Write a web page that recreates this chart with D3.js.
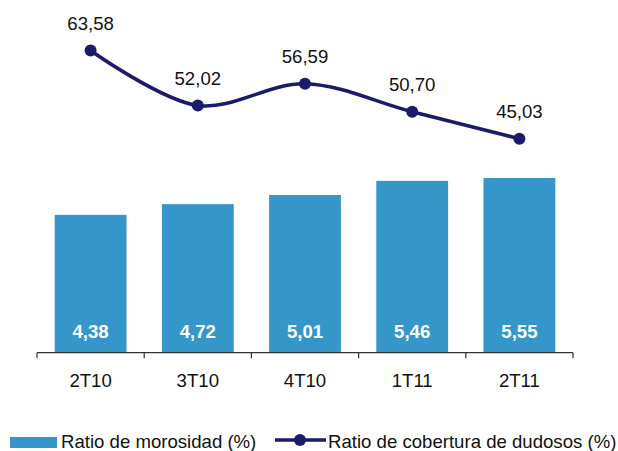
<!DOCTYPE html>
<html>
<head>
<meta charset="utf-8">
<script src="https://cdn.jsdelivr.net/npm/d3@7"></script>
<style>
  body { margin: 0; background: #fff; }
  svg { display: block; font-family: "Liberation Sans", Arial, sans-serif; }
</style>
</head>
<body>
<div class="chart"></div>
<script>
const categories = ['2T10', '3T10', '4T10', '1T11', '2T11'];
const morosidad = [4.38, 4.72, 5.01, 5.46, 5.55];
const cobertura = [63.58, 52.02, 56.59, 50.70, 45.03];
const seriesNames = ['Ratio de morosidad (%)', 'Ratio de cobertura de dudosos (%)'];

const barColor = '#3597c9';
const lineColor = '#1c1a6a';
const fmt = v => v.toFixed(2).replace('.', ',');

function draw_chart() {
    const width = 618, height = 451;
    const left = 37, right = 573, bottom = 352.7, top = 20;
    const fs = 18.6;

    const svg = d3.select('.chart')
        .append('svg')
        .attr('width', width)
        .attr('height', height);

    const x = d3.scaleBand()
        .domain(categories)
        .range([left, right])
        .paddingInner(0.33)
        .paddingOuter(0.165);

    const xAxisScale = d3.scaleBand()
        .domain(categories)
        .range([left, right]);

    const yBar = d3.scaleLinear().domain([0, 10.57]).range([bottom, top]);
    const yLine = d3.scaleLinear().domain([0, 70]).range([bottom, top]);

    const data = categories.map((c, i) => ({cat: c, bar: morosidad[i], line: cobertura[i]}));

    // bars
    svg.append('g')
        .selectAll('rect')
        .data(data)
        .join('rect')
        .attr('x', d => x(d.cat))
        .attr('y', d => yBar(d.bar))
        .attr('width', x.bandwidth())
        .attr('height', d => yBar(0) - yBar(d.bar))
        .attr('fill', barColor);

    // bar labels
    svg.append('g')
        .attr('font-size', fs)
        .attr('font-weight', 'bold')
        .attr('fill', '#fff')
        .attr('text-anchor', 'middle')
        .selectAll('text')
        .data(data)
        .join('text')
        .attr('x', d => x(d.cat) + x.bandwidth() / 2)
        .attr('y', 337.5)
        .text(d => fmt(d.bar));

    // x axis
    const axis = svg.append('g')
        .attr('transform', `translate(0, ${bottom})`);
    axis.append('line')
        .attr('x1', left).attr('x2', right)
        .attr('stroke', '#333').attr('stroke-width', 1.2);
    const tickPos = categories.map(c => xAxisScale(c)).concat([right]);
    axis.selectAll('.tick')
        .data(tickPos)
        .join('line')
        .attr('x1', d => d).attr('x2', d => d)
        .attr('y1', 0).attr('y2', 5.5)
        .attr('stroke', '#333').attr('stroke-width', 1.2);
    axis.selectAll('text')
        .data(categories)
        .join('text')
        .attr('x', d => xAxisScale(d) + xAxisScale.bandwidth() / 2)
        .attr('y', 34)
        .attr('text-anchor', 'middle')
        .attr('font-size', fs)
        .attr('fill', '#111')
        .text(d => d);

    // line
    const cx = d => x(d.cat) + x.bandwidth() / 2;
    const line = d3.line()
        .x(cx)
        .y(d => yLine(d.line))
        .curve(d3.curveCatmullRom.alpha(0.5));

    svg.append('path')
        .datum(data)
        .attr('d', line)
        .attr('fill', 'none')
        .attr('stroke', lineColor)
        .attr('stroke-width', 3.6);

    svg.append('g')
        .selectAll('circle')
        .data(data)
        .join('circle')
        .attr('cx', cx)
        .attr('cy', d => yLine(d.line))
        .attr('r', 6)
        .attr('fill', lineColor);

    svg.append('g')
        .attr('font-size', fs)
        .attr('fill', '#111')
        .attr('text-anchor', 'middle')
        .selectAll('text')
        .data(data)
        .join('text')
        .attr('x', cx)
        .attr('y', d => yLine(d.line) - 20.5)
        .text(d => fmt(d.line));

    // legend
    const legend = svg.append('g').attr('font-size', fs).attr('fill', '#111');
    legend.append('rect')
        .attr('x', 10).attr('y', 437)
        .attr('width', 47).attr('height', 11)
        .attr('fill', barColor);
    legend.append('text')
        .attr('x', 61).attr('y', 448)
        .text(seriesNames[0]);
    legend.append('line')
        .attr('x1', 275).attr('x2', 326)
        .attr('y1', 440).attr('y2', 440)
        .attr('stroke', lineColor).attr('stroke-width', 3.6);
    legend.append('circle')
        .attr('cx', 300).attr('cy', 440).attr('r', 6)
        .attr('fill', lineColor);
    legend.append('text')
        .attr('x', 328).attr('y', 448)
        .text(seriesNames[1]);
}

draw_chart();
</script>
</body>
</html>
